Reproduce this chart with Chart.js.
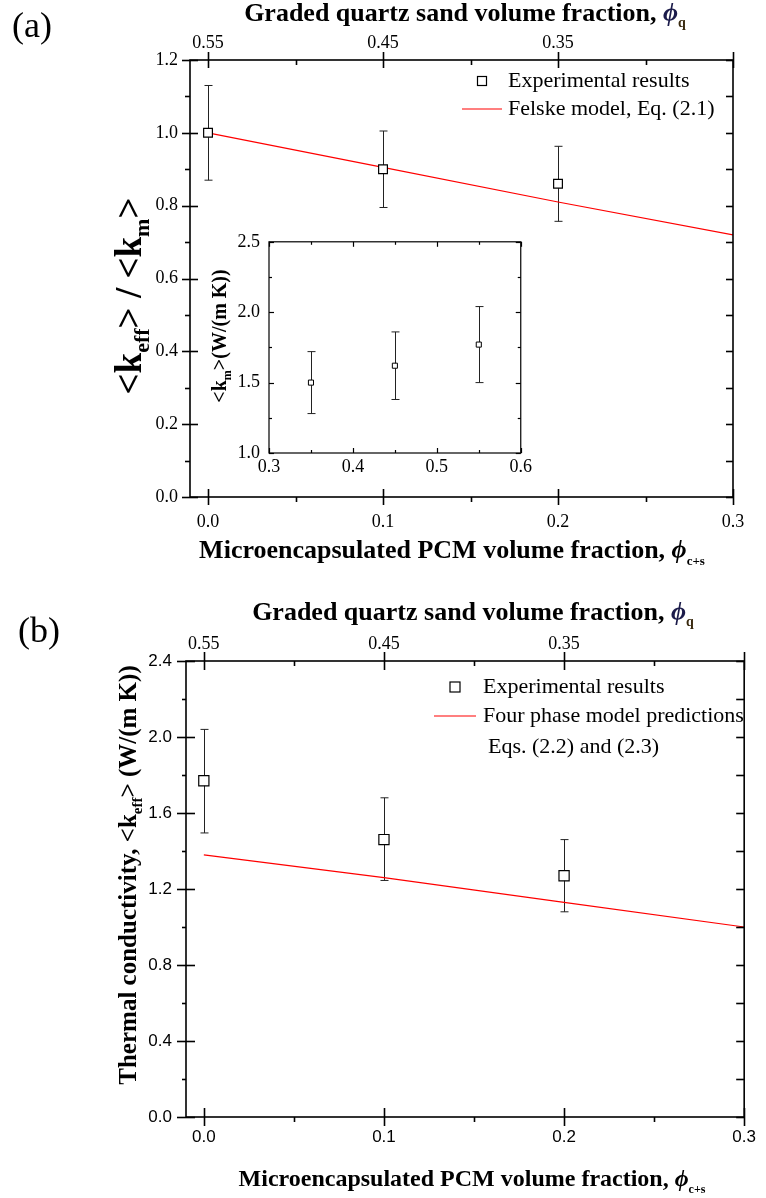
<!DOCTYPE html>
<html>
<head>
<meta charset="utf-8">
<script src="https://cdn.jsdelivr.net/npm/chart.js@4"></script>
<style>
  body { margin: 0; background: #fff; }
  #wrap { position: relative; width: 766px; height: 1198px; background: #fff; }
  canvas { position: absolute; }
</style>
</head>
<body>
<div id="wrap">
  <canvas id="chartA" width="766" height="578" style="left:0;top:0"></canvas>
  <canvas id="inset" width="340" height="260" style="left:195px;top:222px"></canvas>
  <canvas id="chartB" width="766" height="620" style="left:0;top:578px"></canvas>
</div>
<script>
// --- data ---
const pcmFraction = [0, 0.1, 0.2];
const kRatio = [1.0, 0.90, 0.86];
const kRatioErr = [0.13, 0.105, 0.103];

const felskeX = [0, 0.1, 0.2, 0.3];
const felskeY = [1.0, 0.905, 0.81, 0.72];

const quartzFraction = [0.35, 0.45, 0.55];
const kMatrix = [1.50, 1.62, 1.77];
const kMatrixErr = [0.22, 0.24, 0.27];

const kEff = [1.77, 1.46, 1.27];
const kEffErrUp = [0.27, 0.22, 0.19];
const kEffErrDown = [0.275, 0.215, 0.19];

const fourPhaseX = [0, 0.1, 0.2, 0.3];
const fourPhaseY = [1.38, 1.26, 1.13, 1.0];

// tick labels
const pcmTicks = [0, 0.1, 0.2, 0.3];
const quartzTicks = [0.55, 0.45, 0.35];
const ratioTicks = [0, 0.2, 0.4, 0.6, 0.8, 1.0, 1.2];
const kEffTicks = [0, 0.4, 0.8, 1.2, 1.6, 2.0, 2.4];
const insetXTicks = [0.3, 0.4, 0.5, 0.6];
const insetYTicks = [1.0, 1.5, 2.0, 2.5];

const SERIF = '"Liberation Serif", "Times New Roman", serif';
const SANS = '"Liberation Sans", Arial, sans-serif';
const PHI = '\u03D5';

const pts = (xs, ys) => xs.map((x, i) => ({ x: x, y: ys[i] }));
const fixedTicks = (list) => (scale) => { scale.ticks = list.map(v => ({ value: v })); };
const between = (list) => list.slice(1).map((v, i) => (v + list[i]) / 2);

// frame around the plot area plus tick marks (in / out lengths)
function framePlugin(spec) {
  return {
    id: 'frame',
    afterDraw(chart) {
      const ctx = chart.ctx, a = chart.chartArea;
      ctx.save();
      ctx.strokeStyle = '#000';
      ctx.lineWidth = spec.width;
      ctx.strokeRect(a.left, a.top, a.right - a.left, a.bottom - a.top);
      spec.ticks.forEach(t => {
        const sc = chart.scales[t.scale];
        const mark = (v, inn, out) => {
          const p = Math.round(sc.getPixelForValue(v)) + 0.5;
          ctx.beginPath();
          if (t.side === 'left') { ctx.moveTo(a.left - out, p); ctx.lineTo(a.left + inn, p); }
          if (t.side === 'right') { ctx.moveTo(a.right + out, p); ctx.lineTo(a.right - inn, p); }
          if (t.side === 'bottom') { ctx.moveTo(p, a.bottom + out); ctx.lineTo(p, a.bottom - inn); }
          if (t.side === 'top') { ctx.moveTo(p, a.top - out); ctx.lineTo(p, a.top + inn); }
          ctx.stroke();
        };
        t.major.forEach(v => mark(v, t.majIn, t.majOut));
        (t.minor || []).forEach(v => mark(v, t.minIn, t.minOut));
      });
      ctx.restore();
    }
  };
}

// vertical error bars with caps
const errorBarPlugin = {
  id: 'errorBars',
  beforeDatasetsDraw(chart) {
    const ctx = chart.ctx;
    chart.data.datasets.forEach((ds, i) => {
      if (!ds.errUp) return;
      const meta = chart.getDatasetMeta(i);
      const ys = chart.scales[meta.yAxisID];
      ctx.save();
      ctx.strokeStyle = '#222';
      ctx.lineWidth = 1;
      meta.data.forEach((el, j) => {
        const v = ds.data[j].y;
        const top = ys.getPixelForValue(v + ds.errUp[j]);
        const bot = ys.getPixelForValue(v - ds.errDown[j]);
        const x = Math.round(el.x) + 0.5;
        ctx.beginPath();
        ctx.moveTo(x, top); ctx.lineTo(x, bot);
        ctx.moveTo(x - ds.cap, top); ctx.lineTo(x + ds.cap, top);
        ctx.moveTo(x - ds.cap, bot); ctx.lineTo(x + ds.cap, bot);
        ctx.stroke();
      });
      ctx.restore();
    });
  }
};

function drawRuns(ctx, it) {
  ctx.save();
  ctx.translate(it.x, it.y);
  if (it.rotate) ctx.rotate(-Math.PI / 2);
  ctx.textBaseline = it.baseline || 'alphabetic';
  let total = 0;
  it.runs.forEach(r => { ctx.font = r.font; total += ctx.measureText(r.text).width; });
  let x = it.align === 'left' ? 0 : -total / 2;
  it.runs.forEach(r => {
    ctx.font = r.font;
    ctx.fillStyle = r.color || '#000';
    ctx.fillText(r.text, x, r.dy || 0);
    x += ctx.measureText(r.text).width;
  });
  ctx.restore();
}

function textPlugin(items) {
  return { id: 'texts', afterDraw(chart) { items.forEach(it => drawRuns(chart.ctx, it)); } };
}

// legend inside the plot, labels come from the datasets
function legendPlugin(spec) {
  return {
    id: 'innerLegend',
    afterDraw(chart) {
      const ctx = chart.ctx;
      ctx.save();
      ctx.font = spec.font;
      ctx.textBaseline = 'middle';
      ctx.fillStyle = '#000';
      chart.data.datasets.forEach((ds, i) => {
        const row = spec.rows[i];
        if (ds.showLine === false) {
          const s = row.size;
          ctx.strokeStyle = '#000'; ctx.lineWidth = 1.2;
          ctx.strokeRect(row.mx - s / 2, row.y - s / 2, s, s);
        } else {
          ctx.strokeStyle = ds.borderColor; ctx.lineWidth = 1.2;
          ctx.beginPath(); ctx.moveTo(row.x1, row.y); ctx.lineTo(row.x2, row.y); ctx.stroke();
        }
        ds.label.split('\n').forEach((line, k) => {
          ctx.fillText(line, row.tx[k], row.ty[k]);
        });
      });
      ctx.restore();
    }
  };
}

const B = (s) => 'bold ' + s + 'px ' + SERIF;
const BI = (s) => 'italic bold ' + s + 'px ' + SERIF;

// ---------- panel (a) ----------
new Chart(document.getElementById('chartA'), {
  type: 'scatter',
  data: {
    datasets: [
      {
        label: 'Experimental results',
        data: pts(pcmFraction, kRatio),
        errUp: kRatioErr, errDown: kRatioErr, cap: 4,
        showLine: false,
        pointStyle: 'rect', pointRadius: 6.2,
        backgroundColor: '#fff', borderColor: '#000', borderWidth: 1.2
      },
      {
        type: 'line',
        label: 'Felske model, Eq. (2.1)',
        data: pts(felskeX, felskeY),
        borderColor: '#ff0000', borderWidth: 1.2, pointRadius: 0, fill: false
      }
    ]
  },
  options: {
    responsive: false, animation: false,
    layout: { padding: { right: 33, top: 0, left: 0, bottom: 0 } },
    plugins: { legend: { display: false }, tooltip: { enabled: false } },
    scales: {
      x: {
        type: 'linear', position: 'bottom', min: -0.0103, max: 0.3,
        afterBuildTicks: fixedTicks(pcmTicks),
        afterFit: (s) => { s.height = 81; },
        grid: { display: false, drawTicks: false }, border: { display: false },
        ticks: { padding: 14, color: '#000', font: { family: SERIF, size: 18 }, maxRotation: 0, autoSkip: false, callback: v => v.toFixed(1) }
      },
      x2: {
        type: 'linear', position: 'top', axis: 'x', min: 0.25, max: 0.5603, reverse: true,
        afterBuildTicks: fixedTicks(quartzTicks),
        afterFit: (s) => { s.height = 60; },
        grid: { display: false, drawTicks: false }, border: { display: false },
        ticks: { padding: 6, color: '#000', font: { family: SERIF, size: 18 }, maxRotation: 0, autoSkip: false, callback: v => v.toFixed(2) }
      },
      y: {
        type: 'linear', position: 'left', min: 0, max: 1.2,
        afterBuildTicks: fixedTicks(ratioTicks),
        afterFit: (s) => { s.width = 190; },
        grid: { display: false, drawTicks: false }, border: { display: false },
        ticks: { padding: 12, color: '#000', font: { family: SERIF, size: 18 }, autoSkip: false, callback: v => v.toFixed(1) }
      }
    }
  },
  plugins: [
    errorBarPlugin,
    framePlugin({
      width: 1.6,
      ticks: [
        { scale: 'y', side: 'left', major: ratioTicks, minor: between(ratioTicks), majIn: 8, majOut: 8, minIn: 0, minOut: 5 },
        { scale: 'y', side: 'right', major: ratioTicks, minor: between(ratioTicks), majIn: 7, majOut: 0, minIn: 7, minOut: 0 },
        { scale: 'x', side: 'bottom', major: pcmTicks, minor: between(pcmTicks), majIn: 8, majOut: 8, minIn: 0, minOut: 5 },
        { scale: 'x2', side: 'top', major: quartzTicks.concat([0.25]), minor: [0.5, 0.4, 0.3], majIn: 8, majOut: 8, minIn: 5, minOut: 0 }
      ]
    }),
    legendPlugin({
      font: '22px ' + SERIF,
      rows: [
        { mx: 482, y: 81, size: 9, tx: [508], ty: [81] },
        { x1: 462, x2: 502, y: 109, tx: [508], ty: [109] }
      ]
    }),
    textPlugin([
      { x: 12, y: 37, align: 'left', runs: [{ text: '(a)', font: '36px ' + SERIF }] },
      { x: 465, y: 21, runs: [
        { text: 'Graded quartz sand volume fraction, ', font: B(26) },
        { text: PHI, font: BI(26), color: '#1b1b4a' },
        { text: 'q', font: B(14), dy: 6, color: '#3a2a10' }] },
      { x: 452, y: 558, runs: [
        { text: 'Microencapsulated PCM volume fraction, ', font: B(26) },
        { text: PHI, font: BI(26) },
        { text: 'c+s', font: B(13), dy: 7 }] },
      { x: 141, y: 296, rotate: true, runs: [
        { text: '<k', font: B(37) },
        { text: 'eff', font: B(22), dy: 8 },
        { text: '> / <k', font: B(37) },
        { text: 'm', font: B(22), dy: 8 },
        { text: '>', font: B(37) }] }
    ])
  ]
});

// ---------- inset of panel (a) ----------
new Chart(document.getElementById('inset'), {
  type: 'scatter',
  data: {
    datasets: [{
      label: 'k_m',
      data: pts(quartzFraction, kMatrix),
      errUp: kMatrixErr, errDown: kMatrixErr, cap: 4,
      showLine: false,
      pointStyle: 'rect', pointRadius: 3.6,
      backgroundColor: '#fff', borderColor: '#000', borderWidth: 1
    }]
  },
  options: {
    responsive: false, animation: false,
    layout: { padding: { right: 9, top: 9, left: 0, bottom: 0 } },
    plugins: { legend: { display: false }, tooltip: { enabled: false } },
    scales: {
      x: {
        type: 'linear', position: 'bottom', min: 0.3, max: 0.6,
        afterBuildTicks: fixedTicks(insetXTicks),
        afterFit: (s) => { s.height = 29; },
        grid: { display: false, drawTicks: false }, border: { display: false },
        ticks: { padding: 3, color: '#000', font: { family: SERIF, size: 18 }, maxRotation: 0, autoSkip: false, callback: v => v.toFixed(1) }
      },
      y: {
        type: 'linear', position: 'left', min: 1.0, max: 2.5,
        afterBuildTicks: fixedTicks(insetYTicks),
        afterFit: (s) => { s.width = 74; },
        grid: { display: false, drawTicks: false }, border: { display: false },
        ticks: { padding: 9, color: '#000', font: { family: SERIF, size: 18 }, autoSkip: false, callback: v => v.toFixed(1) }
      }
    }
  },
  plugins: [
    errorBarPlugin,
    framePlugin({
      width: 1.2,
      ticks: [
        { scale: 'y', side: 'left', major: insetYTicks, minor: between(insetYTicks), majIn: 5, majOut: 0, minIn: 3, minOut: 0 },
        { scale: 'y', side: 'right', major: insetYTicks, minor: between(insetYTicks), majIn: 5, majOut: 0, minIn: 3, minOut: 0 },
        { scale: 'x', side: 'bottom', major: insetXTicks, minor: between(insetXTicks), majIn: 5, majOut: 0, minIn: 3, minOut: 0 },
        { scale: 'x', side: 'top', major: insetXTicks, minor: between(insetXTicks), majIn: 5, majOut: 0, minIn: 3, minOut: 0 }
      ]
    }),
    textPlugin([
      { x: 31, y: 114, rotate: true, runs: [
        { text: '<k', font: B(20) },
        { text: 'm', font: B(12), dy: 5 },
        { text: '>(W/(m K))', font: B(20) }] }
    ])
  ]
});

// ---------- panel (b) ----------
new Chart(document.getElementById('chartB'), {
  type: 'scatter',
  data: {
    datasets: [
      {
        label: 'Experimental results',
        data: pts(pcmFraction, kEff),
        errUp: kEffErrUp, errDown: kEffErrDown, cap: 4,
        showLine: false,
        pointStyle: 'rect', pointRadius: 7.2,
        backgroundColor: '#fff', borderColor: '#000', borderWidth: 1.2
      },
      {
        type: 'line',
        label: 'Four phase model predictions\nEqs. (2.2) and (2.3)',
        data: pts(fourPhaseX, fourPhaseY),
        borderColor: '#ff0000', borderWidth: 1.2, pointRadius: 0, fill: false
      }
    ]
  },
  options: {
    responsive: false, animation: false,
    layout: { padding: { right: 14, top: 0, left: 0, bottom: 0 } },
    plugins: { legend: { display: false }, tooltip: { enabled: false } },
    scales: {
      x: {
        type: 'linear', position: 'bottom', min: -0.0099, max: 0.3,
        afterBuildTicks: fixedTicks(pcmTicks),
        afterFit: (s) => { s.height = 81; },
        grid: { display: false, drawTicks: false }, border: { display: false },
        ticks: { padding: 10, color: '#000', font: { family: SANS, size: 17 }, maxRotation: 0, autoSkip: false, callback: v => v.toFixed(1) }
      },
      x2: {
        type: 'linear', position: 'top', axis: 'x', min: 0.25, max: 0.5599, reverse: true,
        afterBuildTicks: fixedTicks(quartzTicks),
        afterFit: (s) => { s.height = 83; },
        grid: { display: false, drawTicks: false }, border: { display: false },
        ticks: { padding: 6, color: '#000', font: { family: SERIF, size: 18 }, maxRotation: 0, autoSkip: false, callback: v => v.toFixed(2) }
      },
      y: {
        type: 'linear', position: 'left', min: 0, max: 2.4,
        afterBuildTicks: fixedTicks(kEffTicks),
        afterFit: (s) => { s.width = 186; },
        grid: { display: false, drawTicks: false }, border: { display: false },
        ticks: { padding: 14, color: '#000', font: { family: SANS, size: 17 }, autoSkip: false, callback: v => v.toFixed(1) }
      }
    }
  },
  plugins: [
    errorBarPlugin,
    framePlugin({
      width: 1.6,
      ticks: [
        { scale: 'y', side: 'left', major: kEffTicks, minor: between(kEffTicks), majIn: 9, majOut: 9, minIn: 0, minOut: 4 },
        { scale: 'y', side: 'right', major: kEffTicks, minor: between(kEffTicks), majIn: 8, majOut: 0, minIn: 8, minOut: 0 },
        { scale: 'x', side: 'bottom', major: pcmTicks, minor: between(pcmTicks), majIn: 9, majOut: 9, minIn: 0, minOut: 5 },
        { scale: 'x2', side: 'top', major: quartzTicks.concat([0.25]), minor: [0.5, 0.4, 0.3], majIn: 9, majOut: 9, minIn: 5, minOut: 0 }
      ]
    }),
    legendPlugin({
      font: '22px ' + SERIF,
      rows: [
        { mx: 455, y: 109, size: 10, tx: [483], ty: [109] },
        { x1: 434, x2: 476, y: 138, tx: [483, 488], ty: [138, 169] }
      ]
    }),
    textPlugin([
      { x: 18, y: 64, align: 'left', runs: [{ text: '(b)', font: '36px ' + SERIF }] },
      { x: 473, y: 42, runs: [
        { text: 'Graded quartz sand volume fraction, ', font: B(26) },
        { text: PHI, font: BI(26), color: '#1b1b4a' },
        { text: 'q', font: B(14), dy: 6, color: '#3a2a10' }] },
      { x: 472, y: 608, runs: [
        { text: 'Microencapsulated PCM volume fraction, ', font: B(24) },
        { text: PHI, font: BI(24) },
        { text: 'c+s', font: B(12), dy: 7 }] },
      { x: 136, y: 297, rotate: true, runs: [
        { text: 'Thermal conductivity, <k', font: B(25) },
        { text: 'eff', font: B(15), dy: 6 },
        { text: '> (W/(m K))', font: B(25) }] }
    ])
  ]
});
</script>
</body>
</html>
